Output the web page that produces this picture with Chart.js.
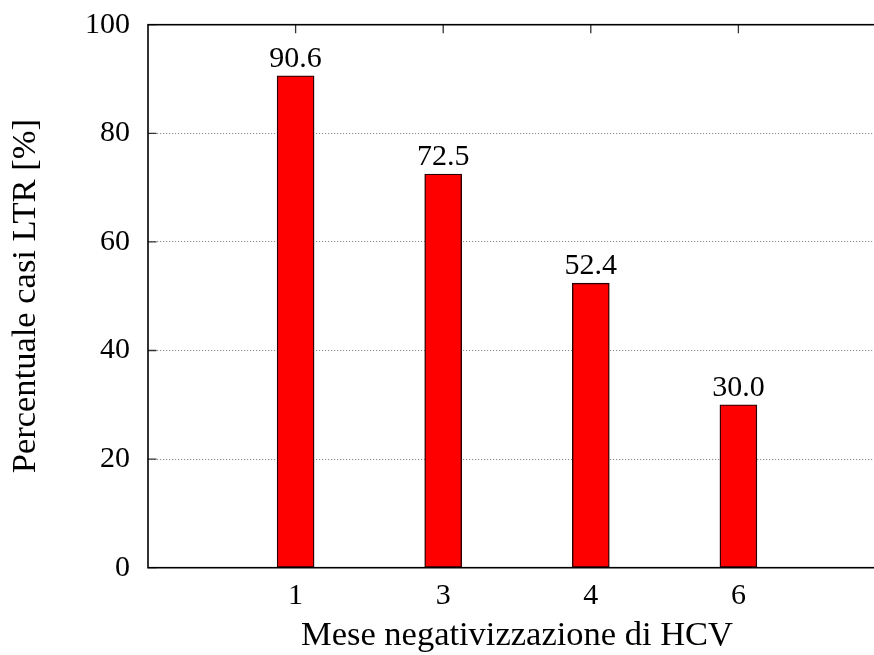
<!DOCTYPE html>
<html>
<head>
<meta charset="utf-8">
<script src="https://cdn.jsdelivr.net/npm/chart.js@4/dist/chart.umd.min.js"></script>
<style>
  html, body { margin: 0; padding: 0; background: #fff; overflow: hidden; }
  #wrap { width: 874px; height: 655px; overflow: hidden; }
  canvas { display: block; }
</style>
</head>
<body>
<div id="wrap"><canvas id="c" width="886" height="655" style="width:886px;height:655px"></canvas></div>
<script>
// Month of HCV negativization and share of LTR cases
const categories = ['1', '3', '4', '6'];
const percentages = [90.6, 72.5, 52.4, 30.0];
const yTicks = [0, 20, 40, 60, 80, 100];

const FONT = "'Liberation Serif', 'Times New Roman', serif";
const TICK_SIZE = 30;
const TITLE_SIZE = 34.5;

// Inward tick marks (drawn beneath the bars)
const innerTicks = {
  id: 'innerTicks',
  beforeDatasetsDraw(chart) {
    const { ctx, chartArea: a, scales: { x, y } } = chart;
    ctx.save();
    ctx.strokeStyle = '#333';
    ctx.lineWidth = 1.3;
    ctx.beginPath();
    x.ticks.forEach(t => {
      const px = x.getPixelForValue(t.value);
      ctx.moveTo(px, a.bottom); ctx.lineTo(px, a.bottom - 8.5);
      ctx.moveTo(px, a.top); ctx.lineTo(px, a.top + 8.5);
    });
    y.ticks.forEach(t => {
      const py = y.getPixelForValue(t.value);
      ctx.moveTo(a.left, py); ctx.lineTo(a.left + 8.5, py);
      ctx.moveTo(a.right, py); ctx.lineTo(a.right - 8.5, py);
    });
    ctx.stroke();
    ctx.restore();
  }
};

// Frame around the plot and value labels above each bar
const frameAndLabels = {
  id: 'frameAndLabels',
  afterDatasetsDraw(chart) {
    const { ctx, chartArea: a } = chart;
    ctx.save();
    ctx.strokeStyle = '#000';
    ctx.lineWidth = 1.6;
    ctx.strokeRect(a.left, a.top, a.right - a.left, a.bottom - a.top);

    ctx.fillStyle = '#000';
    ctx.font = TICK_SIZE + 'px ' + FONT;
    ctx.textAlign = 'center';
    ctx.textBaseline = 'alphabetic';
    const meta = chart.getDatasetMeta(0);
    meta.data.forEach((el, i) => {
      ctx.fillText(percentages[i].toFixed(1), el.x, el.y - 9);
    });
    ctx.restore();
  }
};

new Chart(document.getElementById('c'), {
  type: 'bar',
  data: {
    datasets: [{
      data: percentages.map((v, i) => ({ x: i + 1, y: v })),
      backgroundColor: '#ff0000',
      borderColor: '#2a0000',
      borderWidth: 1.4,
      borderSkipped: false,
      barThickness: 37
    }]
  },
  options: {
    responsive: false,
    maintainAspectRatio: false,
    animation: false,
    devicePixelRatio: 1,
    layout: { padding: { left: 0, right: 0, top: 24.7, bottom: 0 } },
    plugins: { legend: { display: false }, tooltip: { enabled: false } },
    scales: {
      x: {
        type: 'linear',
        offset: false,
        min: 0,
        max: categories.length + 1,
        afterBuildTicks(scale) {
          scale.ticks = categories.map((c, i) => ({ value: i + 1 }));
        },
        afterFit(scale) {
          scale.height = 87.3;
          scale.paddingLeft = 0;
          scale.paddingRight = 0;
        },
        grid: { display: false, drawTicks: false, offset: false },
        border: { display: false },
        ticks: {
          padding: 10,
          color: '#000',
          font: { family: FONT, size: TICK_SIZE },
          maxRotation: 0,
          autoSkip: false,
          callback: v => categories[v - 1] ?? ''
        },
        title: {
          display: true,
          text: 'Mese negativizzazione di HCV',
          color: '#000',
          font: { family: FONT, size: TITLE_SIZE, lineHeight: 1 },
          padding: { top: 0, bottom: 2 }
        }
      },
      y: {
        min: 0,
        max: 100,
        afterBuildTicks(scale) {
          scale.ticks = yTicks.map(v => ({ value: v }));
        },
        afterFit(scale) {
          scale.width = 148;
          scale.paddingTop = 0;
          scale.paddingBottom = 0;
        },
        grid: {
          drawTicks: false,
          lineWidth: 1,
          color: ctx => (ctx.tick && (ctx.tick.value === 0 || ctx.tick.value === 100)) ? 'rgba(0,0,0,0)' : '#8a8a8a'
        },
        border: { display: false, dash: [1.2, 1.8] },
        ticks: {
          padding: 18,
          color: '#000',
          font: { family: FONT, size: TICK_SIZE }
        },
        title: {
          display: true,
          text: 'Percentuale casi LTR [%]',
          color: '#000',
          font: { family: FONT, size: TITLE_SIZE, lineHeight: 1 },
          padding: { top: 9, bottom: 0 }
        }
      }
    }
  },
  plugins: [innerTicks, frameAndLabels]
});
</script>
</body>
</html>
